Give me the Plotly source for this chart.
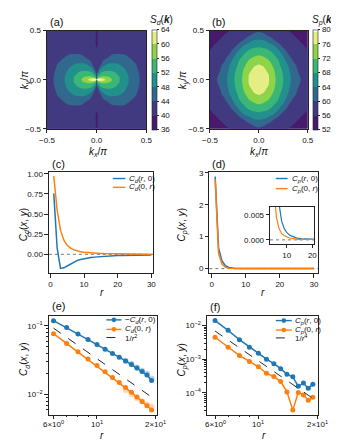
import math
import plotly.graph_objects as go
from plotly.colors import sample_colorscale

W, H = 339, 440

kx_quad_a = [0, 0.01, 0.02, 0.035, 0.05, 0.07, 0.09, 0.12, 0.15, 0.19, 0.23, 0.28, 0.33, 0.39, 0.45, 0.5]
ky_quad_a = [0, 0.004, 0.008, 0.015, 0.025, 0.04, 0.06, 0.08, 0.1, 0.13, 0.16, 0.2, 0.25, 0.3, 0.35, 0.42, 0.5]
S_d_quad = [
    [70, 67, 68, 65.5, 62.5, 60.9, 59.8, 57.5, 56.1, 53.8, 52.1, 49.6, 47.7, 45.5, 43.4, 42],
    [41, 65, 66, 64, 62.1, 60.7, 59.6, 57.5, 56.1, 53.8, 52.1, 49.6, 47.7, 45.5, 43.4, 42],
    [41, 60.5, 61.7, 61.8, 61.2, 60.4, 59.2, 57.3, 56.1, 53.7, 52.1, 49.6, 47.7, 45.5, 43.4, 42],
    [41, 56.6, 58.1, 59.8, 59.9, 59.1, 58.2, 57, 55.8, 53.6, 52.1, 49.6, 47.7, 45.5, 43.4, 41.9],
    [41, 53.4, 56.1, 56.7, 57.1, 57.2, 57, 56.4, 55.2, 53.4, 52, 49.5, 47.7, 45.4, 43.4, 41.9],
    [41, 51.7, 52.8, 54, 54.9, 55.5, 55.6, 55, 54.2, 53, 51.6, 49.4, 47.5, 45.4, 43.3, 41.9],
    [41, 48, 50.5, 52.4, 52.8, 53.2, 53.5, 53.4, 53.1, 52.4, 51, 49.1, 47.3, 45.3, 43.2, 41.9],
    [41, 44.1, 48.2, 50.1, 51.9, 52.3, 52.5, 52.5, 52.4, 51.7, 50.3, 48.7, 47, 45.1, 43, 41.8],
    [41, 40.7, 45.2, 48.4, 49.4, 50.6, 51.3, 51.7, 51.4, 50.6, 49.6, 48.4, 46.7, 44.9, 42.8, 41.8],
    [41, 40.2, 41, 45.2, 47.3, 48.5, 49.1, 49.5, 49.6, 49.3, 48.7, 47.7, 46.1, 44.6, 42.5, 41.7],
    [41, 40.1, 40.4, 41.6, 44.7, 46.2, 47.5, 48.3, 48.4, 48.3, 47.9, 46.7, 45.5, 44.2, 42.2, 41.6],
    [41, 40.1, 40.2, 40.5, 41.1, 44, 44.8, 45.8, 46.3, 46.5, 46.2, 45.5, 44.7, 43.1, 41.8, 41.4],
    [41, 40.1, 40.1, 40.2, 40.4, 40.7, 41.3, 42.9, 44.3, 44.6, 44.6, 44.3, 43.2, 42, 41.5, 41.2],
    [41, 40.1, 40.1, 40.1, 40.2, 40.4, 40.6, 40.9, 41.3, 41.9, 42.1, 42.1, 41.8, 41.4, 41.2, 41.1],
    [39, 40.1, 40.1, 40.1, 40.1, 40.2, 40.3, 40.5, 40.7, 40.9, 41.1, 41.2, 41.2, 41.1, 41, 40.9],
    [39, 40.1, 40.1, 40.1, 40.1, 40.1, 40.2, 40.3, 40.4, 40.5, 40.7, 40.8, 40.8, 40.8, 40.8, 40.8],
    [39, 40.1, 40.1, 40.1, 40.1, 40.1, 40.1, 40.2, 40.3, 40.4, 40.4, 40.5, 40.6, 40.6, 40.6, 40.6],
]
kx_quad_b = [0, 0.05, 0.1, 0.15, 0.2, 0.25, 0.3, 0.35, 0.4, 0.45, 0.5]
ky_quad_b = [0, 0.05, 0.1, 0.15, 0.2, 0.25, 0.3, 0.35, 0.4, 0.45, 0.5]
S_p_quad = [
    [79.5, 77.9, 76.3, 73.2, 70.4, 68, 65.2, 62.9, 60.7, 59.4, 58.5],
    [78.4, 77.6, 76.1, 73, 70.2, 67.8, 65.1, 62.6, 60.4, 59.1, 58.2],
    [77.3, 76.8, 75, 72.4, 69.7, 67.3, 64.6, 62, 59.8, 58.7, 57.9],
    [76.2, 75.6, 73.4, 71.4, 68.9, 66.3, 63.9, 60.9, 59.3, 58.3, 57.5],
    [73.8, 73.3, 72.1, 69.9, 68, 65.2, 62.3, 59.7, 58.6, 57.7, 57],
    [72, 71.4, 70, 68.5, 66.1, 63.7, 60.3, 58.9, 58, 57.2, 56.5],
    [69.4, 69, 68.2, 66.3, 64.3, 60.9, 59.2, 58.1, 57.3, 56.6, 56],
    [67.1, 66.7, 65.6, 64.1, 60.9, 59.2, 58.3, 57.4, 56.7, 56.1, 55.6],
    [64.4, 64.1, 62.6, 60.3, 59.2, 58.2, 57.4, 56.7, 56.1, 55.6, 55.1],
    [61.4, 60.7, 59.7, 58.9, 58.1, 57.4, 56.7, 56.1, 55.6, 55.1, 54.6],
    [59.4, 59.1, 58.5, 57.9, 57.3, 56.6, 56, 55.6, 55.1, 54.6, 54.1],
]
levels_a = [36, 40, 44, 48, 52, 56, 60, 64]
levels_b = [52, 56, 60, 64, 68, 72, 76, 80]

# ---------------- data: correlation functions ----------------
r_lin = list(range(1, 31))
Cd_r0 = [0.757, 0.08, -0.175, -0.168, -0.145, -0.119, -0.0946, -0.0759, -0.0631, -0.0535,
         -0.0458, -0.0398, -0.0349, -0.0309, -0.0274, -0.0243, -0.0217, -0.0193, -0.016, -0.0148,
         -0.0135, -0.0124, -0.0114, -0.0106, -0.0099, -0.0092, -0.0086, -0.0081, -0.0077, -0.0073]
Cd_0r = [0.972, 0.55, 0.30, 0.175, 0.112, 0.0769, 0.0553, 0.042, 0.033, 0.0265,
         0.0215, 0.0178, 0.015, 0.0127, 0.0108, 0.00924, 0.00794, 0.00688, 0.00597, 0.0053,
         0.0047, 0.0042, 0.0038, 0.0034, 0.0031, 0.0028, 0.0026, 0.0024, 0.0023, 0.0022]
Cp_r0 = [2.88, 0.65, 0.24, 0.09, 0.035, 0.0141, 0.00724, 0.0038, 0.00227, 0.0015,
         0.001, 0.00074, 0.000525, 0.000356, 0.0003, 0.000157, 0.000195, 0.000138, 0.000179, 0.00012,
         0.0001, 0.00008, 0.00007, 0.00006, 0.00005, 0.00005, 0.00004, 0.00004, 0.00003, 0.00003]
Cp_0r = [2.8, 0.48, 0.14, 0.045, 0.0105, 0.0045, 0.00227, 0.00129, 0.00086, 0.0006,
         0.00038, 0.00031, 0.00022, 0.000107, 0.0000307, 0.000103, 0.0000863, 0.00006, 0.0000743, 0.00005,
         0.00004, 0.00004, 0.00003, 0.00003, 0.00003, 0.00002, 0.00002, 0.00002, 0.00002, 0.00002]

r_log = list(range(6, 20))
negCd_r0_log = [0.119, 0.0946, 0.0759, 0.0631, 0.0535, 0.0458, 0.0398, 0.0349, 0.0309, 0.0274, 0.0243, 0.0217, 0.0193, 0.016]
Cd_0r_log = [0.0769, 0.0553, 0.042, 0.033, 0.0265, 0.0215, 0.0178, 0.015, 0.0127, 0.0108, 0.00924, 0.00794, 0.00688, 0.00597]
r_pale = [14, 15, 16, 17, 18, 19]
negCd_r0_pale = [0.0312, 0.0279, 0.0249, 0.0223, 0.0201, 0.0172]
Cd_0r_pale = [0.0117, 0.0101, 0.0089, 0.0080, 0.0072, 0.0067]
Cp_r0_log = [0.01406, 0.00724, 0.0038, 0.00227, 0.0015, 0.001, 0.000738, 0.000525, 0.000356, 0.0003, 0.000157, 0.000195, 0.000138, 0.000179]
Cp_0r_log = [0.0045, 0.00227, 0.00129, 0.00086, 0.000597, 0.00038, 0.000307, 0.000217, 0.000107, 0.0000307, 0.000103, 0.0000863, 0.00006, 0.0000743]
guide_r = [6, 19]
guide_r2 = [0.0925, 0.00922]
guide_r4 = [0.0069, 0.0000687]
log_xticks = [6, 10, 20]
log_xtick_text = ['6\u00d710<sup>0</sup>', '10<sup>1</sup>', '2\u00d710<sup>1</sup>']


def mirror(xq, yq, Zq):
    xf = [-v for v in reversed(xq[1:])] + xq
    yf = [-v for v in reversed(yq[1:])] + yq
    ix = list(range(len(xq) - 1, 0, -1)) + list(range(len(xq)))
    iy = list(range(len(yq) - 1, 0, -1)) + list(range(len(yq)))
    return xf, yf, [[Zq[j][i] for i in ix] for j in iy]


kx_a, ky_a, S_d = mirror(kx_quad_a, ky_quad_a, S_d_quad)
kx_b, ky_b, S_p = mirror(kx_quad_b, ky_quad_b, S_p_quad)

# discrete viridis bands as matplotlib's contourf colours them (band midpoints over the level range);
# plotly samples a filled contour's colourscale at (k+1)/8 for the k-th band; values above the top level -> white
band_cols = sample_colorscale('Viridis', [(2 + 4 * k) / 28 for k in range(7)])
band_scale = [[0, band_cols[0]]] + [[(k + 1) / 8, band_cols[k]] for k in range(7)] + [[1, 'white']]

BLUE = '#1f77b4'
ORANGE = '#ff7f0e'
FONT = 'Liberation Sans, Arial, sans-serif'


def px(p):
    return p / W


def py(p):
    return 1 - p / H


fig = go.Figure()

cb_common = dict(xanchor='left', yanchor='middle', y=py(69), len=100, lenmode='pixels',
                 thickness=4.5, thicknessmode='pixels', xpad=0, ypad=0,
                 outlinewidth=0.6, outlinecolor='#222', ticks='outside', ticklen=2.5,
                 tickwidth=0.7, tickcolor='#222', tickfont=dict(size=8, color='#111', family=FONT))

fig.add_trace(go.Contour(x=kx_a, y=ky_a, z=S_d, colorscale=band_scale, zmin=levels_a[0], zmax=levels_a[-1], zauto=False,
                         autocontour=False,
                         contours=dict(start=levels_a[0], end=levels_a[-1], size=4, coloring='fill', showlines=False),
                         line=dict(width=0, smoothing=1.0),
                         colorbar=dict(x=px(141.7), tickvals=levels_a, **cb_common),
                         xaxis='x', yaxis='y', hoverinfo='skip'))
fig.add_trace(go.Contour(x=kx_b, y=ky_b, z=S_p, colorscale=band_scale, zmin=levels_b[0], zmax=levels_b[-1], zauto=False,
                         autocontour=False,
                         contours=dict(start=levels_b[0], end=levels_b[-1], size=4, coloring='fill', showlines=False),
                         line=dict(width=0, smoothing=1.0),
                         colorbar=dict(x=px(309.3), tickvals=levels_b, **cb_common),
                         xaxis='x2', yaxis='y2', hoverinfo='skip'))

ln = dict(width=1.5)
fig.add_trace(go.Scatter(x=r_lin, y=Cd_r0, mode='lines', line=dict(color=BLUE, **ln), xaxis='x3', yaxis='y3'))
fig.add_trace(go.Scatter(x=r_lin, y=Cd_0r, mode='lines', line=dict(color=ORANGE, **ln), xaxis='x3', yaxis='y3'))
fig.add_trace(go.Scatter(x=r_lin, y=Cp_r0, mode='lines', line=dict(color=BLUE, **ln), xaxis='x4', yaxis='y4'))
fig.add_trace(go.Scatter(x=r_lin, y=Cp_0r, mode='lines', line=dict(color=ORANGE, **ln), xaxis='x4', yaxis='y4'))
fig.add_trace(go.Scatter(x=r_lin, y=Cp_r0, mode='lines', line=dict(color=BLUE, width=1.2), xaxis='x5', yaxis='y5'))
fig.add_trace(go.Scatter(x=r_lin, y=Cp_0r, mode='lines', line=dict(color=ORANGE, width=1.2), xaxis='x5', yaxis='y5'))

mk = dict(size=5, symbol='circle')
fig.add_trace(go.Scatter(x=r_pale, y=negCd_r0_pale, mode='lines+markers', opacity=0.3,
                         line=dict(color=BLUE, width=1.5), marker=dict(color=BLUE, size=6), xaxis='x6', yaxis='y6'))
fig.add_trace(go.Scatter(x=r_pale, y=Cd_0r_pale, mode='lines+markers', opacity=0.3,
                         line=dict(color=ORANGE, width=1.5), marker=dict(color=ORANGE, size=6), xaxis='x6', yaxis='y6'))
fig.add_trace(go.Scatter(x=r_log, y=negCd_r0_log, mode='lines+markers', line=dict(color=BLUE, **ln),
                         marker=dict(color=BLUE, **mk), xaxis='x6', yaxis='y6'))
fig.add_trace(go.Scatter(x=r_log, y=Cd_0r_log, mode='lines+markers', line=dict(color=ORANGE, **ln),
                         marker=dict(color=ORANGE, **mk), xaxis='x6', yaxis='y6'))
fig.add_trace(go.Scatter(x=guide_r, y=guide_r2, mode='lines', line=dict(color='#111', width=0.9, dash='dash'),
                         xaxis='x6', yaxis='y6'))
fig.add_trace(go.Scatter(x=r_log, y=Cp_r0_log, mode='lines+markers', line=dict(color=BLUE, **ln),
                         marker=dict(color=BLUE, **mk), xaxis='x7', yaxis='y7'))
fig.add_trace(go.Scatter(x=r_log, y=Cp_0r_log, mode='lines+markers', line=dict(color=ORANGE, **ln),
                         marker=dict(color=ORANGE, **mk), xaxis='x7', yaxis='y7'))
fig.add_trace(go.Scatter(x=guide_r, y=guide_r4, mode='lines', line=dict(color='#111', width=0.9, dash='dash'),
                         xaxis='x7', yaxis='y7'))


def ax(domain, anchor, **kw):
    d = dict(domain=domain, anchor=anchor, showline=True, linecolor='#222', linewidth=0.8, mirror=True,
             ticks='outside', ticklen=3.5, tickwidth=0.8, tickcolor='#222', showgrid=False, zeroline=False,
             tickfont=dict(size=8, color='#111', family=FONT), tickmode='array')
    d.update(kw)
    return d


def minor(vals):
    return dict(tickmode='array', tickvals=vals, ticks='outside', ticklen=2, tickwidth=0.6,
                tickcolor='#222', showgrid=False)


top_ab = [py(119.3), py(19)]
top_cd = [py(266.7), py(163.5)]
top_ef = [py(411), py(310.5)]
kt = dict(tickvals=[-0.5, 0, 0.5], ticktext=['\u22120.5', '0.0', '0.5'], range=[-0.5, 0.5])


def sup(n):
    return '10<sup>' + n + '</sup>'


lay = dict(
    xaxis=ax([px(32.3), px(136)], 'y', **kt),
    yaxis=ax(top_ab, 'x', **kt),
    xaxis2=ax([px(202.3), px(304.3)], 'y2', **kt),
    yaxis2=ax(top_ab, 'x2', **kt),
    xaxis3=ax([px(34.3), px(143.3)], 'y3', range=[-0.45, 30.6], tickvals=[0, 10, 20, 30]),
    yaxis3=ax(top_cd, 'x3', range=[-0.235, 1.02], tickvals=[0, 0.25, 0.5, 0.75, 1.0],
              ticktext=['0.00', '0.25', '0.50', '0.75', '1.00']),
    xaxis4=ax([px(201.7), px(315)], 'y4', range=[-0.7, 31.2], tickvals=[0, 10, 20, 30]),
    yaxis4=ax(top_cd, 'x4', range=[-0.145, 3.02], tickvals=[0, 1, 2, 3]),
    xaxis5=ax([px(265), px(310.7)], 'y5', range=[3.5, 20.6], tickvals=[10, 20]),
    yaxis5=ax([py(236.7), py(199)], 'x5', range=[-0.0008, 0.0066], tickvals=[0, 0.005],
              ticktext=['0.000', '0.005']),
    xaxis6=ax([px(34), px(147)], 'y6', type='log', range=[0.753, 1.306], tickvals=log_xticks,
              showticklabels=False, minor=minor([7, 8, 9])),
    yaxis6=ax(top_ef, 'x6', type='log', range=[-2.29, -0.859], tickvals=[0.01, 0.1],
              ticktext=[sup('\u22122'), sup('\u22121')],
              minor=minor([0.004, 0.005, 0.006, 0.007, 0.008, 0.009, 0.02, 0.03, 0.04, 0.05, 0.06, 0.07, 0.08, 0.09])),
    xaxis7=ax([px(199), px(315)], 'y7', type='log', range=[0.736, 1.305], tickvals=log_xticks,
              showticklabels=False, minor=minor([7, 8, 9])),
    yaxis7=ax(top_ef, 'x7', type='log', range=[-4.646, -1.719], tickvals=[0.0001, 0.001, 0.01],
              ticktext=[sup('\u22124'), sup('\u22123'), sup('\u22122')],
              minor=minor([2e-5, 3e-5, 4e-5, 5e-5, 6e-5, 7e-5, 8e-5, 9e-5,
                           2e-4, 3e-4, 4e-4, 5e-4, 6e-4, 7e-4, 8e-4, 9e-4,
                           2e-3, 3e-3, 4e-3, 5e-3, 6e-3, 7e-3, 8e-3, 9e-3])),
)

annotations = []
shapes = []


def note(text, x, y, size=9, xanchor='center', yanchor='middle', angle=0):
    annotations.append(dict(text=text, x=px(x), y=py(y), xref='paper', yref='paper', showarrow=False,
                            xanchor=xanchor, yanchor=yanchor, textangle=angle,
                            font=dict(size=size, color='#111', family=FONT)))


# log x tick labels of (e) and (f), placed on their own axes
for xr in ['x6', 'x7']:
    for v, t in zip(log_xticks, log_xtick_text):
        annotations.append(dict(text=t, x=math.log10(v), xref=xr, y=py(420.5), yref='paper', showarrow=False,
                                xanchor='center', yanchor='middle',
                                font=dict(size=8, color='#111', family=FONT)))

for lbl, x, y in [('(a)', 33, 10), ('(b)', 202, 10), ('(c)', 35, 155), ('(d)', 202, 155),
                  ('(e)', 35, 300), ('(f)', 200, 301)]:
    note(lbl, x, y, size=11, xanchor='left')

note('<i>S<sub>d</sub></i>(<b><i>k</i></b>)', 166, 8.5, size=10, xanchor='right')
note('<i>S<sub>p</sub></i>(<b><i>k</i></b>)', 335, 8.5, size=10, xanchor='right')
note('<i>k<sub>x</sub></i>/<i>\u03c0</i>', 86, 142.5, size=10)
note('<i>k<sub>x</sub></i>/<i>\u03c0</i>', 253, 142.5, size=10)
note('<i>k<sub>y</sub></i>/<i>\u03c0</i>', 10, 70, size=10, angle=-90)
note('<i>k<sub>y</sub></i>/<i>\u03c0</i>', 175, 70, size=10, angle=-90)
note('<i>C<sub>d</sub></i>(<i>x</i>, <i>y</i>)', 8, 217, size=10, angle=-90)
note('<i>C<sub>p</sub></i>(<i>x</i>, <i>y</i>)', 174, 217, size=10, angle=-90)
note('<i>C<sub>d</sub></i>(<i>x</i>, <i>y</i>)', 8.5, 355, size=10, angle=-90)
note('<i>C<sub>p</sub></i>(<i>x</i>, <i>y</i>)', 174, 355, size=10, angle=-90)
note('<i>r</i>', 90, 286.7, size=10)
note('<i>r</i>', 258, 286.7, size=10)
note('<i>r</i>', 90, 432, size=10)
note('<i>r</i>', 259, 432, size=10)


def leg(x0, x1, y, color, text, tx, dash=None, marker=False):
    shapes.append(dict(type='line', xref='paper', yref='paper', x0=px(x0), x1=px(x1), y0=py(y), y1=py(y),
                       line=dict(color=color, width=1.4 if dash is None else 0.9, dash=dash or 'solid')))
    if marker:
        xm = (x0 + x1) / 2
        shapes.append(dict(type='circle', xref='paper', yref='paper', x0=px(xm - 2.4), x1=px(xm + 2.4),
                           y0=py(y + 2.4), y1=py(y - 2.4), fillcolor=color, line=dict(color=color, width=0)))
    note(text, tx, y, size=8, xanchor='left')


leg(101, 114, 170, BLUE, '<i>C<sub>d</sub></i>(<i>r</i>, 0)', 116)
leg(101, 114, 179, ORANGE, '<i>C<sub>d</sub></i>(0, <i>r</i>)', 116)
leg(271, 283.3, 170, BLUE, '<i>C<sub>p</sub></i>(<i>r</i>, 0)', 285.7)
leg(271, 283.3, 180.3, ORANGE, '<i>C<sub>p</sub></i>(0, <i>r</i>)', 285.7)
leg(94.3, 110, 314.3, BLUE, '\u2212<i>C<sub>d</sub></i>(<i>r</i>, 0)', 111.7, marker=True)
leg(94.3, 110, 324, ORANGE, '<i>C<sub>d</sub></i>(0, <i>r</i>)', 111.7, marker=True)
leg(94.3, 110, 332.3, '#111', '1/<i>r</i><sup>2</sup>', 111.7, dash='dash')
leg(271, 287.7, 315, BLUE, '<i>C<sub>p</sub></i>(<i>r</i>, 0)', 289, marker=True)
leg(271, 287.7, 324.7, ORANGE, '<i>C<sub>p</sub></i>(0, <i>r</i>)', 289, marker=True)
leg(271, 287.7, 332.7, '#111', '1/<i>r</i><sup>4</sup>', 289, dash='dash')

for xr, yr in [('x3', 'y3'), ('x4', 'y4'), ('x5', 'y5')]:
    shapes.append(dict(type='line', xref=xr + ' domain', yref=yr, x0=0, x1=1, y0=0, y1=0, layer='below',
                       line=dict(color='#555', width=0.8, dash='dot')))

fig.update_layout(width=W, height=H, margin=dict(l=0, r=0, t=0, b=0), showlegend=False,
                  paper_bgcolor='white', plot_bgcolor='rgba(0,0,0,0)',
                  font=dict(family=FONT, size=8, color='#111'),
                  annotations=annotations, shapes=shapes, **lay)
fig.write_html('out.html')
